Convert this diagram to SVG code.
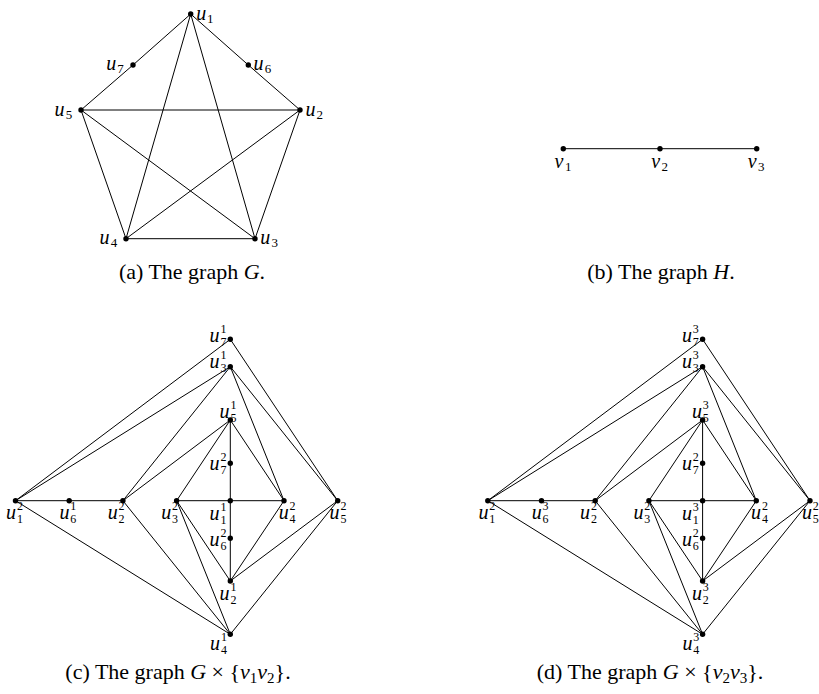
<svg xmlns="http://www.w3.org/2000/svg" width="819" height="694" viewBox="0 0 819 694">
<style>
.e line{stroke:#000;stroke-width:1;fill:none}
circle{fill:#000}
text{font-family:"Liberation Serif","Times New Roman",serif;fill:#000}
.u{font-size:20px;font-style:italic}
.s{font-size:13px;font-style:normal}
.t{font-size:12px;font-style:normal}
.cap{font-size:22px}
.i{font-style:italic}
</style>
<rect width="819" height="694" fill="#fff"/>

<!-- (a) graph G -->
<g id="edgesG" class="e">
<line x1="190.7" y1="14" x2="133" y2="65"/>
<line x1="133" y1="65" x2="81" y2="110"/>
<line x1="190.7" y1="14" x2="248.3" y2="65"/>
<line x1="248.3" y1="65" x2="300" y2="110"/>
<line x1="81" y1="110" x2="300" y2="110"/>
<line x1="81" y1="110" x2="126" y2="238.7"/>
<line x1="81" y1="110" x2="255" y2="238.7"/>
<line x1="190.7" y1="14" x2="126" y2="238.7"/>
<line x1="190.7" y1="14" x2="255" y2="238.7"/>
<line x1="300" y1="110" x2="126" y2="238.7"/>
<line x1="300" y1="110" x2="255" y2="238.7"/>
<line x1="126" y1="238.7" x2="255" y2="238.7"/>
</g>
<g id="G-u1"><circle cx="190.7" cy="14" r="2.7"/><text class="u"><tspan x="196.3" y="19.5">u</tspan><tspan class="s" x="207" y="22.5">1</tspan></text></g>
<g id="G-u2"><circle cx="300" cy="110" r="2.7"/><text class="u"><tspan x="305.6" y="115.5">u</tspan><tspan class="s" x="316.5" y="118.5">2</tspan></text></g>
<g id="G-u3"><circle cx="255" cy="238.7" r="2.7"/><text class="u"><tspan x="260.3" y="244">u</tspan><tspan class="s" x="271.5" y="247">3</tspan></text></g>
<g id="G-u4"><circle cx="126" cy="238.7" r="2.7"/><text class="u"><tspan x="99.6" y="244">u</tspan><tspan class="s" x="110.7" y="247">4</tspan></text></g>
<g id="G-u5"><circle cx="81" cy="110" r="2.7"/><text class="u"><tspan x="54.6" y="115.5">u</tspan><tspan class="s" x="65.7" y="118.5">5</tspan></text></g>
<g id="G-u6"><circle cx="248.3" cy="65" r="2.7"/><text class="u"><tspan x="253.6" y="70.3">u</tspan><tspan class="s" x="264.7" y="73.3">6</tspan></text></g>
<g id="G-u7"><circle cx="133" cy="65" r="2.7"/><text class="u"><tspan x="106.3" y="70.3">u</tspan><tspan class="s" x="117.2" y="73.3">7</tspan></text></g>
<text class="cap" x="192" y="279" text-anchor="middle">(a) The graph <tspan class="i">G</tspan>.</text>

<!-- (b) graph H -->
<g id="edgesH" class="e">
<line x1="563.3" y1="148.7" x2="660" y2="148.7"/>
<line x1="660" y1="148.7" x2="756.7" y2="148.7"/>
</g>
<g id="H-v1"><circle cx="563.3" cy="148.7" r="2.7"/><text class="u"><tspan x="554.6" y="168">v</tspan><tspan class="s" x="565" y="171">1</tspan></text></g>
<g id="H-v2"><circle cx="660" cy="148.7" r="2.7"/><text class="u"><tspan x="651.3" y="168">v</tspan><tspan class="s" x="661.5" y="171">2</tspan></text></g>
<g id="H-v3"><circle cx="756.7" cy="148.7" r="2.7"/><text class="u"><tspan x="747.8" y="168">v</tspan><tspan class="s" x="758" y="171">3</tspan></text></g>
<text class="cap" x="661" y="279" text-anchor="middle">(b) The graph <tspan class="i">H</tspan>.</text>

<!-- (c) G x {v1v2} -->
<g id="edgesC" class="e">
<line x1="15.5" y1="500.7" x2="69.2" y2="500.7"/>
<line x1="69.2" y1="500.7" x2="122.9" y2="500.7"/>
<line x1="176.6" y1="500.7" x2="230.3" y2="500.7"/>
<line x1="230.3" y1="500.7" x2="284" y2="500.7"/>
<line x1="230.3" y1="420" x2="230.3" y2="463.3"/>
<line x1="230.3" y1="463.3" x2="230.3" y2="500.7"/>
<line x1="230.3" y1="500.7" x2="230.3" y2="538.3"/>
<line x1="230.3" y1="538.3" x2="230.3" y2="581"/>
<line x1="15.5" y1="500.7" x2="230.3" y2="339.3"/>
<line x1="15.5" y1="500.7" x2="230.3" y2="366.7"/>
<line x1="15.5" y1="500.7" x2="230.3" y2="634.3"/>
<line x1="230.3" y1="339.3" x2="337.7" y2="500.7"/>
<line x1="230.3" y1="366.7" x2="122.9" y2="500.7"/>
<line x1="230.3" y1="366.7" x2="284" y2="500.7"/>
<line x1="230.3" y1="366.7" x2="337.7" y2="500.7"/>
<line x1="230.3" y1="420" x2="122.9" y2="500.7"/>
<line x1="230.3" y1="420" x2="176.6" y2="500.7"/>
<line x1="230.3" y1="420" x2="284" y2="500.7"/>
<line x1="122.9" y1="500.7" x2="230.3" y2="634.3"/>
<line x1="176.6" y1="500.7" x2="230.3" y2="581"/>
<line x1="176.6" y1="500.7" x2="230.3" y2="634.3"/>
<line x1="284" y1="500.7" x2="230.3" y2="581"/>
<line x1="337.7" y1="500.7" x2="230.3" y2="581"/>
<line x1="337.7" y1="500.7" x2="230.3" y2="634.3"/>
</g>
<g id="C-u7-1"><circle cx="230.3" cy="339.3" r="2.7"/><text class="u"><tspan x="209.6" y="342">u</tspan><tspan class="t" x="220.5" y="346">7</tspan><tspan class="t" x="220.5" y="332.5">1</tspan></text></g>
<g id="C-u3-1"><circle cx="230.3" cy="366.7" r="2.7"/><text class="u"><tspan x="209.6" y="368">u</tspan><tspan class="t" x="220.5" y="372">3</tspan><tspan class="t" x="220.5" y="358.5">1</tspan></text></g>
<g id="C-u5-1"><circle cx="230.3" cy="420" r="2.7"/><text class="u"><tspan x="219.6" y="418">u</tspan><tspan class="t" x="230.5" y="422">5</tspan><tspan class="t" x="230.5" y="408.5">1</tspan></text></g>
<g id="C-u7-2"><circle cx="230.3" cy="463.3" r="2.7"/><text class="u"><tspan x="209.6" y="470">u</tspan><tspan class="t" x="220.5" y="474">7</tspan><tspan class="t" x="220.5" y="460.5">2</tspan></text></g>
<g id="C-u1-1"><circle cx="230.3" cy="500.7" r="2.7"/><text class="u"><tspan x="209.6" y="520">u</tspan><tspan class="t" x="220.5" y="524">1</tspan><tspan class="t" x="220.5" y="510.5">1</tspan></text></g>
<g id="C-u6-2"><circle cx="230.3" cy="538.3" r="2.7"/><text class="u"><tspan x="209.6" y="546">u</tspan><tspan class="t" x="220.5" y="550">6</tspan><tspan class="t" x="220.5" y="536.5">2</tspan></text></g>
<g id="C-u2-1"><circle cx="230.3" cy="581" r="2.7"/><text class="u"><tspan x="219.6" y="600">u</tspan><tspan class="t" x="230.5" y="604">2</tspan><tspan class="t" x="230.5" y="590.5">1</tspan></text></g>
<g id="C-u4-1"><circle cx="230.3" cy="634.3" r="2.7"/><text class="u"><tspan x="210.1" y="650">u</tspan><tspan class="t" x="221" y="654">4</tspan><tspan class="t" x="221" y="640.5">1</tspan></text></g>
<g id="C-u1-2"><circle cx="15.5" cy="500.7" r="2.7"/><text class="u"><tspan x="6.1" y="519">u</tspan><tspan class="t" x="17" y="523">1</tspan><tspan class="t" x="17" y="509.5">2</tspan></text></g>
<g id="C-u6-1"><circle cx="69.2" cy="500.7" r="2.7"/><text class="u"><tspan x="59.4" y="519">u</tspan><tspan class="t" x="70.3" y="523">6</tspan><tspan class="t" x="70.3" y="509.5">1</tspan></text></g>
<g id="C-u2-2"><circle cx="122.9" cy="500.7" r="2.7"/><text class="u"><tspan x="107.8" y="519">u</tspan><tspan class="t" x="118.6" y="523">2</tspan><tspan class="t" x="118.6" y="509.5">2</tspan></text></g>
<g id="C-u3-2"><circle cx="176.6" cy="500.7" r="2.7"/><text class="u"><tspan x="161.2" y="519">u</tspan><tspan class="t" x="172" y="523">3</tspan><tspan class="t" x="172" y="509.5">2</tspan></text></g>
<g id="C-u4-2"><circle cx="284" cy="500.7" r="2.7"/><text class="u"><tspan x="278.8" y="519">u</tspan><tspan class="t" x="289.6" y="523">4</tspan><tspan class="t" x="289.6" y="509.5">2</tspan></text></g>
<g id="C-u5-2"><circle cx="337.7" cy="500.7" r="2.7"/><text class="u"><tspan x="329.6" y="519">u</tspan><tspan class="t" x="340.5" y="523">5</tspan><tspan class="t" x="340.5" y="509.5">2</tspan></text></g>
<text class="cap" x="178" y="679" text-anchor="middle">(c) The graph <tspan class="i">G</tspan> × {<tspan class="i">v</tspan><tspan font-size="15" dy="4">1</tspan><tspan class="i" dy="-4">v</tspan><tspan font-size="15" dy="4">2</tspan><tspan dy="-4">}.</tspan></text>

<!-- (d) G x {v2v3} -->
<g id="edgesD" class="e">
<line x1="487.8" y1="500.7" x2="541.5" y2="500.7"/>
<line x1="541.5" y1="500.7" x2="595.2" y2="500.7"/>
<line x1="648.9" y1="500.7" x2="702.6" y2="500.7"/>
<line x1="702.6" y1="500.7" x2="756.3" y2="500.7"/>
<line x1="702.6" y1="420" x2="702.6" y2="463.3"/>
<line x1="702.6" y1="463.3" x2="702.6" y2="500.7"/>
<line x1="702.6" y1="500.7" x2="702.6" y2="538.3"/>
<line x1="702.6" y1="538.3" x2="702.6" y2="581"/>
<line x1="487.8" y1="500.7" x2="702.6" y2="339.3"/>
<line x1="487.8" y1="500.7" x2="702.6" y2="366.7"/>
<line x1="487.8" y1="500.7" x2="702.6" y2="634.3"/>
<line x1="702.6" y1="339.3" x2="810" y2="500.7"/>
<line x1="702.6" y1="366.7" x2="595.2" y2="500.7"/>
<line x1="702.6" y1="366.7" x2="756.3" y2="500.7"/>
<line x1="702.6" y1="366.7" x2="810" y2="500.7"/>
<line x1="702.6" y1="420" x2="595.2" y2="500.7"/>
<line x1="702.6" y1="420" x2="648.9" y2="500.7"/>
<line x1="702.6" y1="420" x2="756.3" y2="500.7"/>
<line x1="595.2" y1="500.7" x2="702.6" y2="634.3"/>
<line x1="648.9" y1="500.7" x2="702.6" y2="581"/>
<line x1="648.9" y1="500.7" x2="702.6" y2="634.3"/>
<line x1="756.3" y1="500.7" x2="702.6" y2="581"/>
<line x1="810" y1="500.7" x2="702.6" y2="581"/>
<line x1="810" y1="500.7" x2="702.6" y2="634.3"/>
</g>
<g id="D-u7-3"><circle cx="702.6" cy="339.3" r="2.7"/><text class="u"><tspan x="681.9" y="342">u</tspan><tspan class="t" x="692.8" y="346">7</tspan><tspan class="t" x="692.8" y="332.5">3</tspan></text></g>
<g id="D-u3-3"><circle cx="702.6" cy="366.7" r="2.7"/><text class="u"><tspan x="681.9" y="368">u</tspan><tspan class="t" x="692.8" y="372">3</tspan><tspan class="t" x="692.8" y="358.5">3</tspan></text></g>
<g id="D-u5-3"><circle cx="702.6" cy="420" r="2.7"/><text class="u"><tspan x="691.9" y="418">u</tspan><tspan class="t" x="702.8" y="422">5</tspan><tspan class="t" x="702.8" y="408.5">3</tspan></text></g>
<g id="D-u7-2"><circle cx="702.6" cy="463.3" r="2.7"/><text class="u"><tspan x="681.9" y="470">u</tspan><tspan class="t" x="692.8" y="474">7</tspan><tspan class="t" x="692.8" y="460.5">2</tspan></text></g>
<g id="D-u1-3"><circle cx="702.6" cy="500.7" r="2.7"/><text class="u"><tspan x="681.9" y="520">u</tspan><tspan class="t" x="692.8" y="524">1</tspan><tspan class="t" x="692.8" y="510.5">3</tspan></text></g>
<g id="D-u6-2"><circle cx="702.6" cy="538.3" r="2.7"/><text class="u"><tspan x="681.9" y="546">u</tspan><tspan class="t" x="692.8" y="550">6</tspan><tspan class="t" x="692.8" y="536.5">2</tspan></text></g>
<g id="D-u2-3"><circle cx="702.6" cy="581" r="2.7"/><text class="u"><tspan x="691.9" y="600">u</tspan><tspan class="t" x="702.8" y="604">2</tspan><tspan class="t" x="702.8" y="590.5">3</tspan></text></g>
<g id="D-u4-3"><circle cx="702.6" cy="634.3" r="2.7"/><text class="u"><tspan x="682.4" y="650">u</tspan><tspan class="t" x="693.3" y="654">4</tspan><tspan class="t" x="693.3" y="640.5">3</tspan></text></g>
<g id="D-u1-2"><circle cx="487.8" cy="500.7" r="2.7"/><text class="u"><tspan x="478.4" y="519">u</tspan><tspan class="t" x="489.3" y="523">1</tspan><tspan class="t" x="489.3" y="509.5">2</tspan></text></g>
<g id="D-u6-3"><circle cx="541.5" cy="500.7" r="2.7"/><text class="u"><tspan x="531.7" y="519">u</tspan><tspan class="t" x="542.6" y="523">6</tspan><tspan class="t" x="542.6" y="509.5">3</tspan></text></g>
<g id="D-u2-2"><circle cx="595.2" cy="500.7" r="2.7"/><text class="u"><tspan x="580.1" y="519">u</tspan><tspan class="t" x="590.9" y="523">2</tspan><tspan class="t" x="590.9" y="509.5">2</tspan></text></g>
<g id="D-u3-2"><circle cx="648.9" cy="500.7" r="2.7"/><text class="u"><tspan x="633.5" y="519">u</tspan><tspan class="t" x="644.3" y="523">3</tspan><tspan class="t" x="644.3" y="509.5">2</tspan></text></g>
<g id="D-u4-2"><circle cx="756.3" cy="500.7" r="2.7"/><text class="u"><tspan x="751.1" y="519">u</tspan><tspan class="t" x="761.9" y="523">4</tspan><tspan class="t" x="761.9" y="509.5">2</tspan></text></g>
<g id="D-u5-2"><circle cx="810" cy="500.7" r="2.7"/><text class="u"><tspan x="801.9" y="519">u</tspan><tspan class="t" x="812.8" y="523">5</tspan><tspan class="t" x="812.8" y="509.5">2</tspan></text></g>
<text class="cap" x="650" y="679" text-anchor="middle">(d) The graph <tspan class="i">G</tspan> × {<tspan class="i">v</tspan><tspan font-size="15" dy="4">2</tspan><tspan class="i" dy="-4">v</tspan><tspan font-size="15" dy="4">3</tspan><tspan dy="-4">}.</tspan></text>
</svg>
